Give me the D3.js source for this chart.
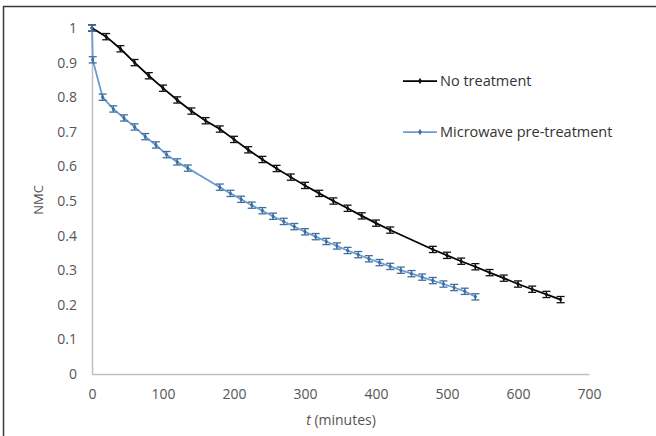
<!DOCTYPE html>
<html>
<head>
<meta charset="utf-8">
<script src="https://cdn.jsdelivr.net/npm/d3@7"></script>
<style>
  body { margin: 0; background: #fff; }
  svg text { font-family: "Open Sans", "Liberation Sans", sans-serif; }
</style>
</head>
<body>
<div id="chart"></div>
<script>
// time (minutes) and NMC
var no_treatment_t = [0, 20, 40, 60, 80, 100, 120, 140, 160, 180, 200, 220, 240, 260, 280, 300, 320, 340, 360, 380, 400, 420,
  480, 500, 520, 540, 560, 580, 600, 620, 640, 660];
var no_treatment_nmc = [1.000, 0.975, 0.940, 0.900, 0.862, 0.826, 0.792, 0.760, 0.732, 0.708, 0.678, 0.648, 0.620, 0.594, 0.569, 0.545, 0.522, 0.500, 0.479, 0.457, 0.436, 0.416,
  0.360, 0.343, 0.326, 0.310, 0.293, 0.277, 0.260, 0.245, 0.230, 0.215];

var microwave_t = [0, 1, 15, 30, 45, 60, 75, 90, 105, 120, 135,
  180, 195, 210, 225, 240, 255, 270, 285, 300, 315, 330, 345, 360, 375, 390, 405, 420, 435, 450, 465, 480, 495, 510, 525, 540];
var microwave_nmc = [1.000, 0.908, 0.800, 0.766, 0.740, 0.714, 0.686, 0.662, 0.634, 0.613, 0.595,
  0.540, 0.522, 0.505, 0.488, 0.472, 0.456, 0.441, 0.426, 0.411, 0.397, 0.383, 0.370, 0.357, 0.345, 0.333, 0.322, 0.311, 0.300, 0.290, 0.280, 0.270, 0.260, 0.250, 0.239, 0.223];

var error_bar = 0.009;

var x_ticks = [0, 100, 200, 300, 400, 500, 600, 700];
var y_ticks = [0, 0.1, 0.2, 0.3, 0.4, 0.5, 0.6, 0.7, 0.8, 0.9, 1];

var series_labels = ['No treatment', 'Microwave pre-treatment'];

var width = 656, height = 436;
var margin = { left: 92, right: 67, top: 28, bottom: 62 };

var svg = d3.select('#chart').append('svg')
  .attr('width', width)
  .attr('height', height);

// outer frame (only left and top edges are inside the picture)
svg.append('path')
  .attr('d', 'M3.5,' + height + ' L3.5,6.5 L' + width + ',6.5')
  .attr('fill', 'none')
  .attr('stroke', '#3a3a3a')
  .attr('stroke-width', 1.5);

var x = d3.scaleLinear().domain([0, 700]).range([margin.left, width - margin.right]);
var y = d3.scaleLinear().domain([0, 1]).range([height - margin.bottom, margin.top]);

// axes
var xAxis = svg.append('g')
  .attr('transform', 'translate(0,' + y(0) + ')')
  .call(d3.axisBottom(x).tickValues(x_ticks).tickSize(0).tickPadding(15).tickFormat(d3.format('d')));
var yAxis = svg.append('g')
  .attr('transform', 'translate(' + x(0) + ',0)')
  .call(d3.axisLeft(y).tickValues(y_ticks).tickSize(0).tickPadding(15).tickFormat(function(d) { return d3.format('')(+d.toFixed(1)); }));

[xAxis, yAxis].forEach(function(a) {
  a.select('.domain').attr('stroke', '#bfbfbf').attr('stroke-width', 1.5);
  a.selectAll('text').attr('fill', '#555555').style('font-size', '14px');
});

// axis titles
var xTitle = svg.append('text')
  .attr('x', 341).attr('y', 425)
  .attr('text-anchor', 'middle')
  .attr('fill', '#555555')
  .style('font-size', '14px');
xTitle.append('tspan').style('font-style', 'italic').text('t');
xTitle.append('tspan').text(' (minutes)');

svg.append('text')
  .attr('transform', 'translate(43,200) rotate(-90)')
  .attr('text-anchor', 'middle')
  .attr('fill', '#555555')
  .style('font-size', '13px')
  .text('NMC');

function drawSeries(ts, vals, color, errColor) {
  var pts = ts.map(function(t, i) { return { t: t, v: vals[i] }; });
  var line = d3.line().x(function(d) { return x(d.t); }).y(function(d) { return y(d.v); });
  var g = svg.append('g');

  g.append('path')
    .datum(pts)
    .attr('d', line)
    .attr('fill', 'none')
    .attr('stroke', color)
    .attr('stroke-width', 1.75);

  // error bars with caps
  var eb = g.selectAll('.eb').data(pts).enter().append('g');
  eb.append('line')
    .attr('x1', function(d) { return x(d.t); }).attr('x2', function(d) { return x(d.t); })
    .attr('y1', function(d) { return y(d.v + error_bar); }).attr('y2', function(d) { return y(d.v - error_bar); })
    .attr('stroke', errColor).attr('stroke-width', 1.2);
  [error_bar, -error_bar].forEach(function(e) {
    eb.append('line')
      .attr('x1', function(d) { return x(d.t) - 4; }).attr('x2', function(d) { return x(d.t) + 4; })
      .attr('y1', function(d) { return y(d.v + e); }).attr('y2', function(d) { return y(d.v + e); })
      .attr('stroke', errColor).attr('stroke-width', 1.3);
  });

  // small markers
  g.selectAll('.mk').data(pts).enter().append('path')
    .attr('transform', function(d) { return 'translate(' + x(d.t) + ',' + y(d.v) + ')'; })
    .attr('d', d3.symbol().type(d3.symbolDiamond).size(10))
    .attr('fill', errColor);
}

drawSeries(no_treatment_t, no_treatment_nmc, '#000000', '#111111');
drawSeries(microwave_t, microwave_nmc, '#6b9bd2', '#3f6f9f');

// legend
var legend_colors = ['#000000', '#6b9bd2'];
var legend_marks = ['#111111', '#3f6f9f'];
var lg = svg.append('g').selectAll('g').data(series_labels).enter().append('g')
  .attr('transform', function(d, i) { return 'translate(403,' + (81 + i * 51) + ')'; });
lg.append('line')
  .attr('x1', 0).attr('x2', 34).attr('y1', 0).attr('y2', 0)
  .attr('stroke', function(d, i) { return legend_colors[i]; })
  .attr('stroke-width', 1.75);
lg.append('path')
  .attr('transform', 'translate(17,0)')
  .attr('d', d3.symbol().type(d3.symbolDiamond).size(12))
  .attr('fill', function(d, i) { return legend_marks[i]; });
lg.append('text')
  .attr('x', 37).attr('y', 5)
  .attr('fill', '#333333')
  .style('font-size', '14.5px')
  .text(function(d) { return d; });
</script>
</body>
</html>
